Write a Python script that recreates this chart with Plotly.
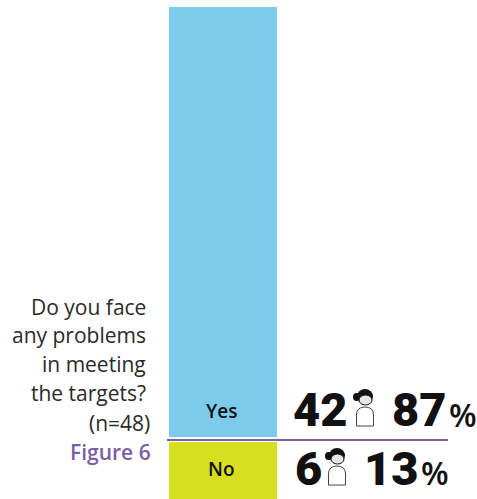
import plotly.graph_objects as go

W, H = 477, 499

answers = ["Yes", "No"]
shares = [87, 13]
counts = [42, 6]
bar_colors = ["#7ccbec", "#d8df20"]
question_lines = ["Do you face", "any problems", "in meeting", "the targets?"]
sample_note = "(n=48)"
figure_label = "Figure 6"

PURPLE = "#7b5ea7"
INK = "#111111"


def px(x):
    return x / W


def py(y):
    return 1 - y / H


fig = go.Figure()
for answer, share, color in zip(answers, shares, bar_colors):
    fig.add_trace(go.Bar(x=["Targets"], y=[share], name=answer,
                         marker=dict(color=color, line=dict(width=0)),
                         hoverinfo="name+y"))

annotations = []


def label(text, x, y, size, color=INK, anchor="right", family="Open Sans", weight=400):
    annotations.append(dict(text=text, x=px(x), y=py(y), xref="paper", yref="paper",
                            xanchor=anchor, yanchor="middle", showarrow=False,
                            font=dict(size=size, color=color, family=family, weight=weight)))


for text, y in zip(question_lines, [307, 335, 364, 393]):
    label(text, 148, y, 21, color="#2a2a2a")
label(sample_note, 152, 423, 21, color="#2a2a2a")
label(figure_label, 153, 452, 21, color=PURPLE, weight=600)

label(answers[0], 221, 411, 19, anchor="center", weight=600)
label(answers[1], 221, 469, 19, anchor="center", weight=600)

number_font = dict(family="Roboto", weight=900)
label(str(counts[0]), 291, 409, 47, anchor="left", **number_font)
label(f"{shares[0]}", 390, 409, 47, anchor="left", **number_font)
label("%", 447, 414, 32, anchor="left", family="Open Sans", weight=600)
label(str(counts[1]), 293, 468, 47, anchor="left", **number_font)
label(f"{shares[1]}", 362, 468, 47, anchor="left", **number_font)
label("%", 419, 472, 32, anchor="left", family="Open Sans", weight=600)


def circle(x0, x1, y0, y1, fill, line=None):
    return dict(type="circle", xref="paper", yref="paper",
                x0=px(x0), x1=px(x1), y0=py(y1), y1=py(y0),
                fillcolor=fill, line=line or dict(width=0))


def person_icon(cx, top):
    """Small outlined figure: dark hair with a side bun, pale face, rounded body."""
    shapes = [
        circle(cx - 12, cx - 5, top + 4, top + 12, "#111111"),
        circle(cx - 8, cx + 8, top, top + 15, "#111111"),
        circle(cx - 6, cx + 7, top + 6, top + 16, "#e6e6e6",
               dict(color="#111111", width=1)),
    ]
    # body outline
    x0, x1 = cx - 8.5, cx + 8.5
    yt, yb = top + 18, top + 37
    path = (f"M {px(x0)} {py(yb)} L {px(x0)} {py(yt + 8)} "
            f"Q {px(x0)} {py(yt)} {px(cx)} {py(yt)} "
            f"Q {px(x1)} {py(yt)} {px(x1)} {py(yt + 8)} "
            f"L {px(x1)} {py(yb)} Z")
    shapes.append(dict(type="path", xref="paper", yref="paper", path=path,
                       fillcolor="white", line=dict(color="#444444", width=1)))
    return shapes


shapes = [
    # white gap between the two segments, then the purple divider
    dict(type="rect", xref="paper", yref="paper", x0=px(165), x1=px(280),
         y0=py(442), y1=py(437), fillcolor="white", line=dict(width=0)),
    dict(type="line", xref="paper", yref="paper", x0=px(167), x1=px(448),
         y0=py(440), y1=py(440), line=dict(color=PURPLE, width=2)),
]
shapes += person_icon(365, 389)
shapes += person_icon(337, 448)

# Stacked from the top: 87 ends at the divider, and the lower segment runs off the page edge.
unit = (439.5 - 7) / shares[0]
fig.update_layout(
    width=W, height=H, margin=dict(l=0, r=0, t=0, b=0),
    paper_bgcolor="white", plot_bgcolor="white",
    barmode="stack", bargap=0, showlegend=False,
    xaxis=dict(domain=[px(169), px(277)], visible=False, fixedrange=True),
    yaxis=dict(range=[(H - 7) / unit, -7 / unit], visible=False, fixedrange=True),
    annotations=annotations, shapes=shapes,
)

fig.write_html("out.html", config={"displayModeBar": False})
